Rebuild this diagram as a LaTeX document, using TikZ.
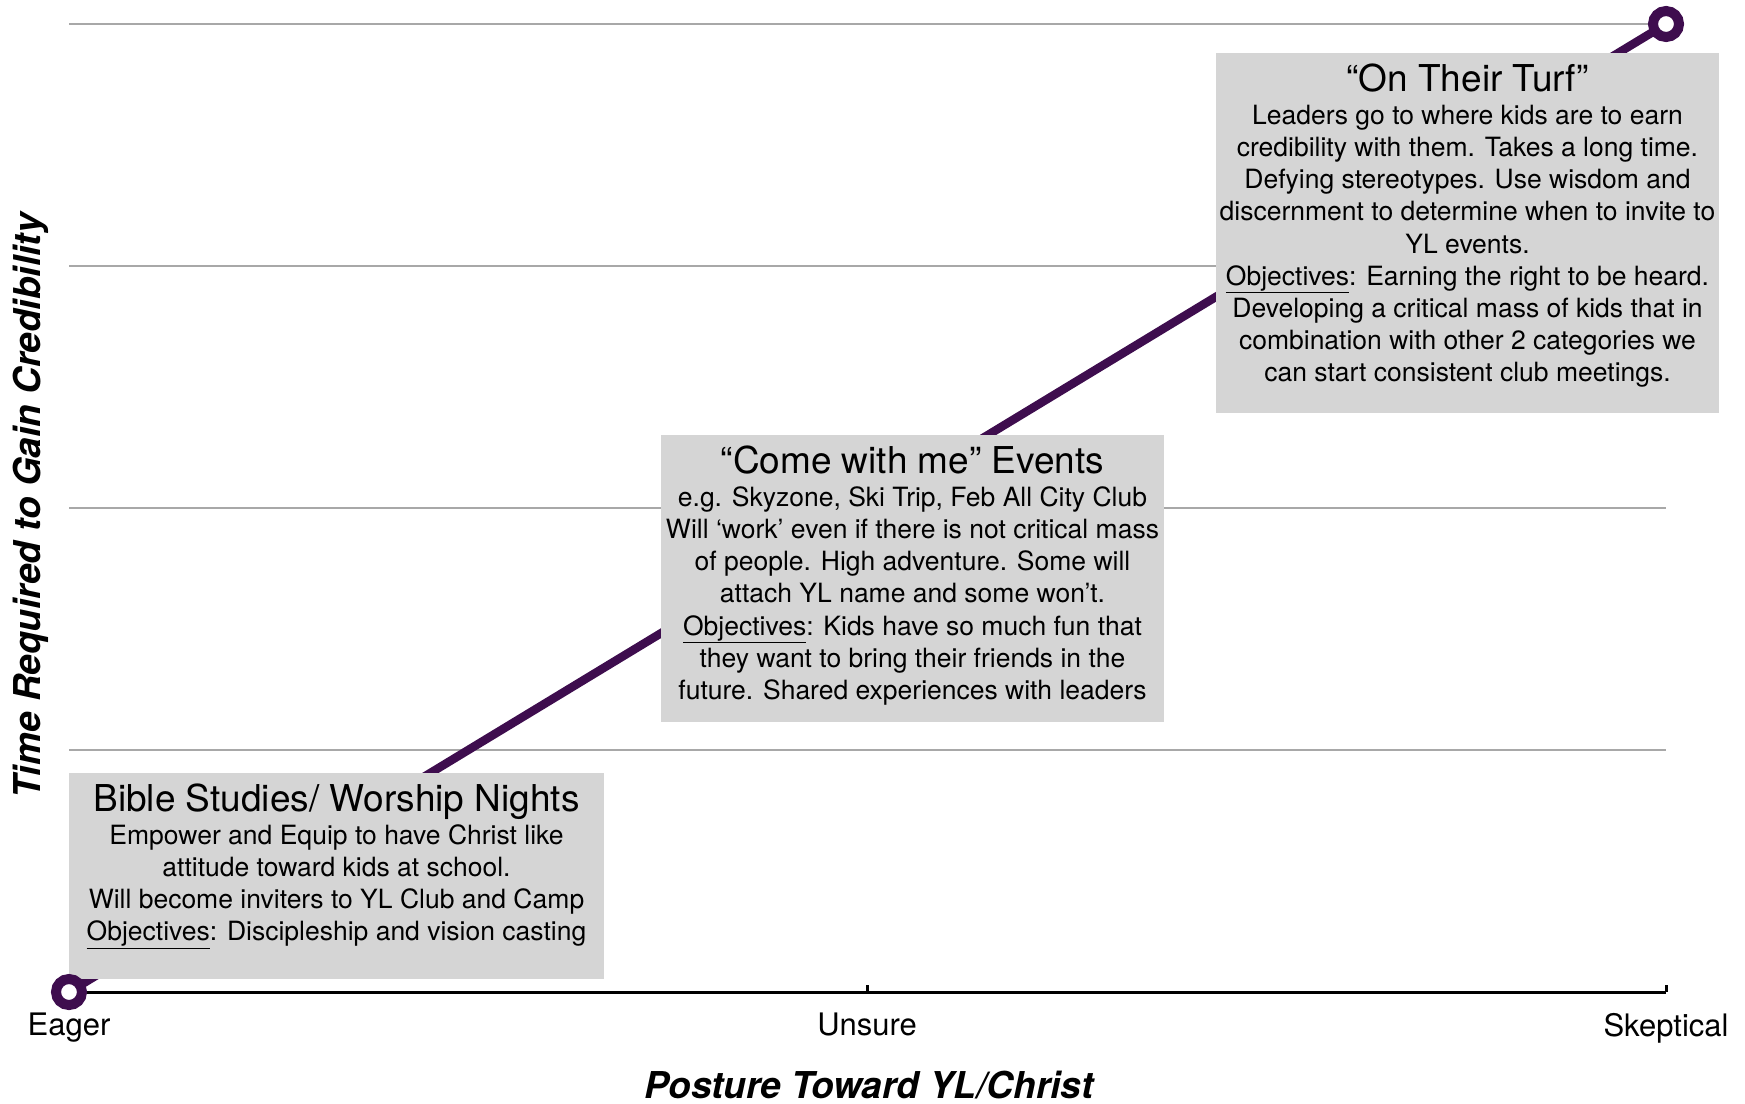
\documentclass[tikz,border=0pt]{standalone}
\usepackage{fontspec}
\setmainfont{TeX Gyre Heros}
\usetikzlibrary{positioning, calc}

\definecolor{ylPurple}{RGB}{62,13,78}
\definecolor{panelGray}{RGB}{213,213,213}
\definecolor{gridGray}{RGB}{168,168,168}

\newcommand{\titleFont}{\fontsize{37}{40}\selectfont}

\begin{document}
\begin{tikzpicture}[x=1pt, y=-1pt,
		every node/.style={inner sep=0pt, outer sep=0pt},
		gridLine/.style={draw=gridGray, line width=2pt},
		axisLine/.style={draw=black, line width=3pt},
		trendLine/.style={draw=ylPurple, line width=8.5pt},
		endRing/.style={
				circle, draw=ylPurple, fill=white,
				line width=10pt, minimum size=26pt
			},
		panel/.style={fill=panelGray, anchor=north west},
		panelText/.style={align=center, font=\fontsize{26.5}{32.2}\selectfont},
		tickLabel/.style={font=\fontsize{31}{36}\selectfont},
		axisTitle/.style={font=\fontsize{37}{42}\selectfont\bfseries\itshape}
	]
	\useasboundingbox (0,0) rectangle (1745,1103);

	% grid and axis
	\coordinate (origin) at (69,992);
	\coordinate (midTick) at (867,992);
	\coordinate (endTick) at (1666,992);
	\coordinate (topEnd) at (1666,24);
	\foreach \y in {24,266,508,750}
	\draw[gridLine] (69,\y) -- (1666,\y);
	\draw[axisLine] (origin) -- (endTick);
	\draw[axisLine] (midTick) -- ++(0,-7);
	\draw[axisLine] (endTick) -- ++(0,-7);

	% trend line
	\draw[trendLine] (origin) -- (topEnd);

	% panels
	\node[panel, minimum width=535pt, minimum height=206pt] (bible) at (69,773) {};
	\node[panelText, below=10.5pt of bible.north] (bibleText) {%
		{\titleFont Bible Studies/ Worship Nights}\\[1pt]
		Empower and Equip to have Christ like\\
		attitude toward kids at school.\\
		Will become inviters to YL Club and Camp\\
		\underline{Objectives}: Discipleship and vision casting};

	\node[panel, minimum width=503pt, minimum height=287pt] (events) at (661,435) {};
	\node[panelText, below=10.5pt of events.north] (eventsText) {%
		{\titleFont “Come with me” Events}\\[1pt]
		e.g. Skyzone, Ski Trip, Feb All City Club\\
		Will ‘work’ even if there is not critical mass\\
		of people. High adventure. Some will\\
		attach YL name and some won’t.\\
		\underline{Objectives}: Kids have so much fun that\\
		they want to bring their friends in the\\
		future. Shared experiences with leaders};

	\node[panel, minimum width=503pt, minimum height=360pt] (turf) at (1216,53) {};
	\node[panelText, below=10.5pt of turf.north] (turfText) {%
		{\titleFont “On Their Turf”}\\[1pt]
		Leaders go to where kids are to earn\\
		credibility with them. Takes a long time.\\
		Defying stereotypes. Use wisdom and\\
		discernment to determine when to invite to\\
		YL events.\\
		\underline{Objectives}: Earning the right to be heard.\\
		Developing a critical mass of kids that in\\
		combination with other 2 categories we\\
		can start consistent club meetings.};

	% end rings
	\node[endRing] (eagerRing) at (origin) {};
	\node[endRing] (skepticRing) at (topEnd) {};

	% axis labels
	\node[tickLabel, below=21pt of origin] (eagerLbl) {Eager};
	\node[tickLabel, below=21pt of midTick] (unsureLbl) {Unsure};
	\node[tickLabel, below=21pt of endTick] (skepticLbl) {Skeptical};
	\node[axisTitle] (xTitle) at (869,1085) {Posture Toward YL/Christ};
	\node[axisTitle, rotate=90] (yTitle) at (31,506) {Time Required to Gain Credibility};
\end{tikzpicture}
\end{document}
